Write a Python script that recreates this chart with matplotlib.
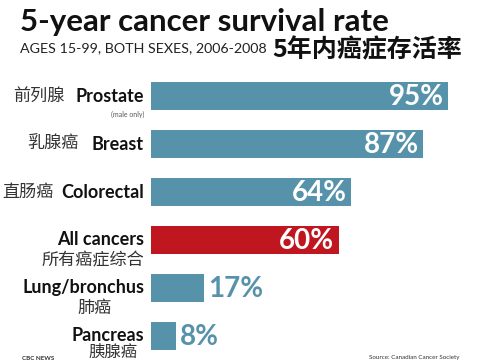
import matplotlib.pyplot as plt

# data
cats_en = ["Prostate", "Breast", "Colorectal", "All cancers", "Lung/bronchus", "Pancreas"]
cats_zh = ["前列腺", "乳腺癌", "直肠癌", "所有癌症综合", "肺癌", "胰腺癌"]
rates = [95, 87, 64, 60, 17, 8]

BLUE = "#5792ab"
RED = "#c0161f"
FONT = ["Lato", "Noto Sans CJK SC", "DejaVu Sans"]
CJK = ["Noto Sans CJK SC", "DejaVu Sans"]

W, H = 489, 361
fig = plt.figure(figsize=(W / 100, H / 100), dpi=100)
fig.patch.set_facecolor("white")

# axes placed in pixel terms: bars start at x=151, rows 48 px apart starting at y=72
ax = fig.add_axes([151 / W, 1 / H, (W - 151) / W, 288 / H])
ax.set_xlim(0, (W - 151) / 3.13)
ax.set_ylim(5.5, -0.5)
ax.axis("off")

colors = [RED if c == "All cancers" else BLUE for c in cats_en]
ax.barh(range(len(rates)), rates, height=0.59, color=colors)

# label x position in axes coords (right edge at ~144 px)
def axx(px):
    return (px - 151) / (W - 151)

tr = ax.get_yaxis_transform()
for i, (en, zh, r) in enumerate(zip(cats_en, cats_zh, rates)):
    if i < 3:
        ax.text(axx(144), i, en, transform=tr, ha="right", va="center",
                fontsize=13, fontweight="bold", family=FONT, color="#111111", clip_on=False)
        zx = {0: 64, 1: 79, 2: 54}[i]
        ax.text(axx(zx), i, zh, transform=tr, ha="right", va="center",
                fontsize=12.3, fontweight="medium", family=CJK, color="#333333", clip_on=False)
    else:
        ax.text(axx(144), i - 0.02, en, transform=tr, ha="right", va="center",
                fontsize=13, fontweight="bold", family=FONT, color="#111111", clip_on=False)
        zx = {3: 144, 4: 112, 5: 138}[i]
        dy = 0.35 if i == 5 else 0.42
        ax.text(axx(zx), i + dy, zh, transform=tr, ha="right", va="center",
                fontsize=12.3 if i < 5 else 11.8, fontweight="medium", family=CJK,
                color="#333333", clip_on=False)
    if r > 30:
        ax.text(r - 1.5, i + 0.02, f"{r}%", ha="right", va="center", fontsize=20,
                fontweight="bold", family=FONT, color="white")
    else:
        ax.text(r + 1.2, i + 0.02, f"{r}%", ha="left", va="center", fontsize=20,
                fontweight="bold", family=FONT, color=BLUE)

ax.text(axx(144), 0.38, "(male only)", transform=tr, ha="right", va="center",
        fontsize=5, family=FONT, color="#555555", clip_on=False)

# titles
fig.text(20 / W, 1 - 22 / H, "5-year cancer survival rate", ha="left", va="center",
         fontsize=22.5, fontweight="bold", family=FONT, color="#111111")
fig.text(20 / W, 1 - 48 / H, "AGES 15-99, BOTH SEXES, 2006-2008", ha="left", va="center",
         fontsize=10.3, family=FONT, color="#222222")
fig.text(272 / W, 1 - 50 / H, "5年内癌症存活率", ha="left", va="center",
         fontsize=18, fontweight="bold", family=CJK, color="#111111")

# footer at the very bottom edge
fig.text(22 / W, 1 - 360.5 / H, "CBC NEWS", ha="left", va="bottom",
         fontsize=4.5, fontweight="bold", family=FONT, color="#333333")
fig.text(460 / W, 1 - 360.5 / H, "Source: Canadian Cancer Society", ha="right", va="bottom",
         fontsize=4.5, family=FONT, color="#333333")

fig.savefig("out.png", dpi=100, facecolor="white")
